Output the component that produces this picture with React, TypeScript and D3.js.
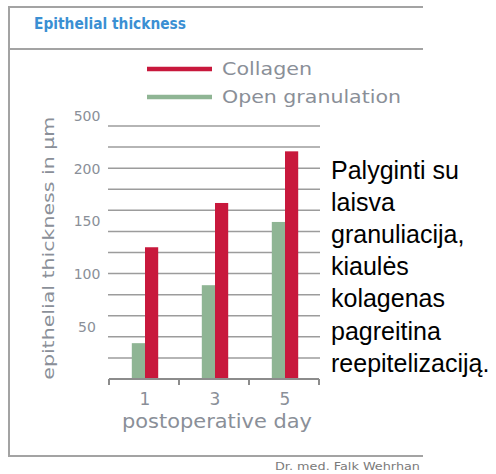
import * as d3 from "d3";

const days = ["1", "3", "5"];
const collagen = [125, 167, 216];
const openGranulation = [34, 89, 149];
const yTicks = [50, 100, 150, 200, 250];
const yTickLabels = ["50", "100", "150", "200", "500"];
const gridValues = [20, 40, 60, 80, 100, 120, 140, 160, 180, 200, 220, 240];
const seriesNames = ["Collagen", "Open granulation"];
const noteLines = [
  "Palyginti su",
  "laisva",
  "granuliacija,",
  "kiaulės",
  "kolagenas",
  "pagreitina",
  "reepitelizaciją.",
];

const RED = "#c8183c";
const GREEN = "#8fb594";
const GREY_TEXT = "#8a8f98";
const FRAME = "#a3a3a3";

export default function App() {
  const width = 496;
  const height = 474;

  const x = d3.scaleBand<string>().domain(days).range([109, 319]).padding(0);
  const y = d3.scaleLinear().domain([0, 250]).range([379, 115.5]);
  const barW = 13.2;
  const bounds = [...days.map((d) => x(d)!), x.range()[1]];

  const legendColors = [RED, GREEN];

  return (
    <svg
      width={width}
      height={height}
      style={{ position: "absolute", left: 0, top: 0, background: "#fff" }}
      fontFamily="'DejaVu Sans', Verdana, sans-serif"
    >
      {/* frame */}
      <g stroke={FRAME} strokeWidth={2} fill="none">
        <line x1={9} x2={423} y1={7} y2={7} />
        <line x1={9} x2={423} y1={49} y2={49} />
        <line x1={9} x2={423} y1={456} y2={456} />
        <line x1={9} x2={9} y1={6} y2={457} />
      </g>
      <text x={34} y={29} fontSize={15} fontWeight="bold" fill="#3a8fd3" textLength={152} lengthAdjust="spacingAndGlyphs">
        Epithelial thickness
      </text>

      {/* legend */}
      {seriesNames.map((name, i) => (
        <g key={name} transform={`translate(0,${69 + i * 28})`}>
          <line x1={147} x2={212} y1={0} y2={0} stroke={legendColors[i]} strokeWidth={4.5} />
          <text x={222} y={6} fontSize={17.5} fill={GREY_TEXT} textLength={i === 0 ? 90 : 179} lengthAdjust="spacingAndGlyphs">
            {name}
          </text>
        </g>
      ))}

      {/* gridlines */}
      <g stroke="#9c9c9c" strokeWidth={1.5}>
        {gridValues.map((v) => (
          <line key={v} x1={108} x2={320} y1={y(v)} y2={y(v)} />
        ))}
      </g>

      {/* y tick labels */}
      <g fontSize={14} fill={GREY_TEXT} textAnchor="middle">
        {yTicks.map((v, i) => (
          <text key={v} x={87} y={y(v) + 5.5}>
            {yTickLabels[i]}
          </text>
        ))}
      </g>
      <text
        transform={`translate(54,${y(125) + 1}) rotate(-90)`}
        textAnchor="middle"
        fontSize={15}
        fill={GREY_TEXT}
        textLength={263}
        lengthAdjust="spacingAndGlyphs"
      >
        epithelial thickness in μm
      </text>

      {/* bars */}
      {days.map((d, i) => {
        const c = x(d)! + x.bandwidth() / 2 + 1;
        return (
          <g key={d}>
            <rect x={c - barW} y={y(openGranulation[i])} width={barW} height={y(0) - y(openGranulation[i])} fill={GREEN} />
            <rect x={c} y={y(collagen[i])} width={barW} height={y(0) - y(collagen[i])} fill={RED} />
          </g>
        );
      })}

      {/* x axis */}
      <g stroke="#8c8c8c" strokeWidth={2} fill="none">
        <line x1={bounds[0]} x2={bounds[bounds.length - 1]} y1={y(0)} y2={y(0)} />
        {bounds.map((b, i) => (
          <line key={i} x1={b} x2={b} y1={y(0)} y2={y(0) + 6} />
        ))}
      </g>
      <g fontSize={17} fill={GREY_TEXT} textAnchor="middle">
        {days.map((d) => (
          <text key={d} x={x(d)! + x.bandwidth() / 2 + 1} y={405}>
            {d}
          </text>
        ))}
      </g>
      <text x={122} y={428} fontSize={19} fill={GREY_TEXT} textLength={190} lengthAdjust="spacingAndGlyphs">
        postoperative day
      </text>

      <text x={275} y={470} fontSize={10} fill="#7a7a7a" textLength={145} lengthAdjust="spacingAndGlyphs">
        Dr. med. Falk Wehrhan
      </text>

      {/* side note */}
      <g fontFamily="'Liberation Sans', Arial, sans-serif" fontSize={25} fill="#000">
        {noteLines.map((t, i) => (
          <text key={t} x={331} y={178.5 + i * 32.2}>
            {t}
          </text>
        ))}
      </g>
    </svg>
  );
}
